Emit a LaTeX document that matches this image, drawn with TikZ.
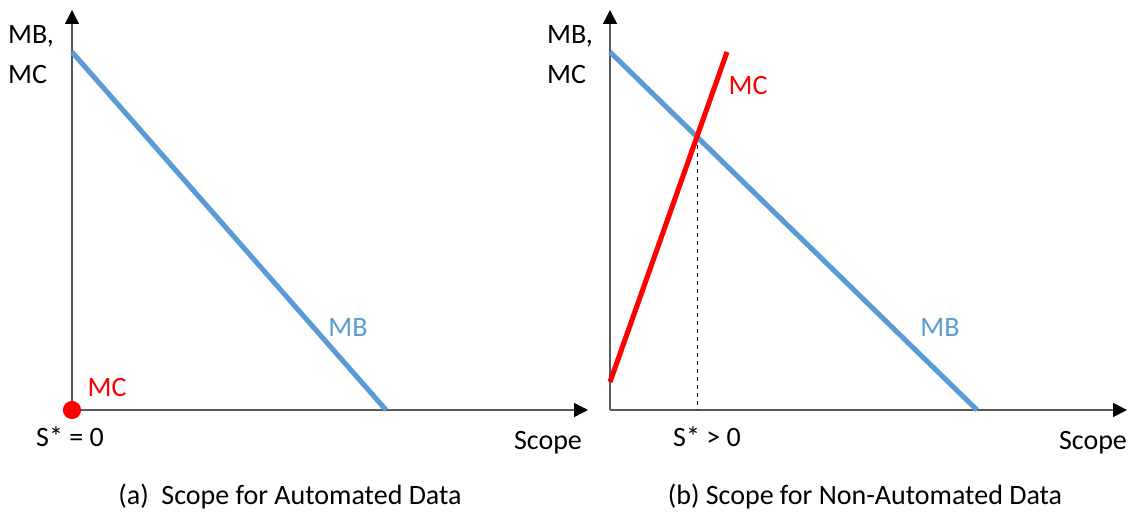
\documentclass[tikz,border=0pt]{standalone}
\usepackage{fontspec}
\setmainfont{Carlito}
\usetikzlibrary{arrows.meta,intersections}
\definecolor{mbblue}{RGB}{91,155,213}
\definecolor{mcred}{RGB}{255,0,0}
\newcommand{\opt}[1]{S* #1 0}

\begin{document}
\begin{tikzpicture}[x=0.75pt,y=0.75pt,
    every node/.style={draw=none,inner sep=0pt,font=\fontsize{21}{30}\selectfont},
    axis/.style={draw=black!65,line width=1.1pt,-{Triangle[length=10.5pt,width=10.5pt,black]}},
    mbline/.style={draw=mbblue,line width=3.8pt},
    mcline/.style={draw=mcred,line width=3.8pt}]
    \useasboundingbox (0,0) rectangle (1128,520);
    % (a) automated data
    \coordinate (o-a)   at (72,110);
    \coordinate (top-a) at (72,510);
    \coordinate (end-a) at (588,110);
    \coordinate (mb0-a) at (72,468);
    \coordinate (mb1-a) at (386,110);
    \path[axis] (o-a) -- (top-a);
    \path[axis] (o-a) -- (end-a);
    \path[mbline] (mb0-a) -- (mb1-a);
    \fill[mcred] (o-a) circle (6.8pt);
    \node[align=left] (ylab-a) at (31,465) {MB,\\MC};
    \node[text=mbblue] (mb-a) at (348,192) {MB};
    \node[text=mcred]  (mc-a) at (107,132) {MC};
    \node (s-a)     at (70,83)  {\opt{=}};
    \node (xlab-a)  at (548,77) {Scope};
    \node (cap-a)   at (290,23) {(a)\ \ Scope for Automated Data};
    % (b) non-automated data
    \coordinate (o-b)   at (610,110);
    \coordinate (top-b) at (610,510);
    \coordinate (end-b) at (1127,110);
    \coordinate (mb0-b) at (610,468);
    \coordinate (mb1-b) at (977,110);
    \coordinate (mc0-b) at (610,138);
    \coordinate (mc1-b) at (727,468);
    \path[axis] (o-b) -- (top-b);
    \path[axis] (o-b) -- (end-b);
    \path[name path=mb] (mb0-b) -- (mb1-b);
    \path[name path=mc] (mc0-b) -- (mc1-b);
    \path[name intersections={of=mb and mc,by=eq-b}];
    \draw[dashed,line width=0.6pt] (eq-b) -- (eq-b |- o-b);
    \path[mbline] (mb0-b) -- (mb1-b);
    \path[mcline] (mc0-b) -- (mc1-b);
    \node[align=left] (ylab-b) at (570,465) {MB,\\MC};
    \node[text=mbblue] (mb-b) at (940,192) {MB};
    \node[text=mcred]  (mc-b) at (748,434) {MC};
    \node (s-b)     at (707,83)  {\opt{>}};
    \node (xlab-b)  at (1093,77) {Scope};
    \node (cap-b)   at (865,23)  {(b) Scope for Non-Automated Data};
\end{tikzpicture}
\end{document}
